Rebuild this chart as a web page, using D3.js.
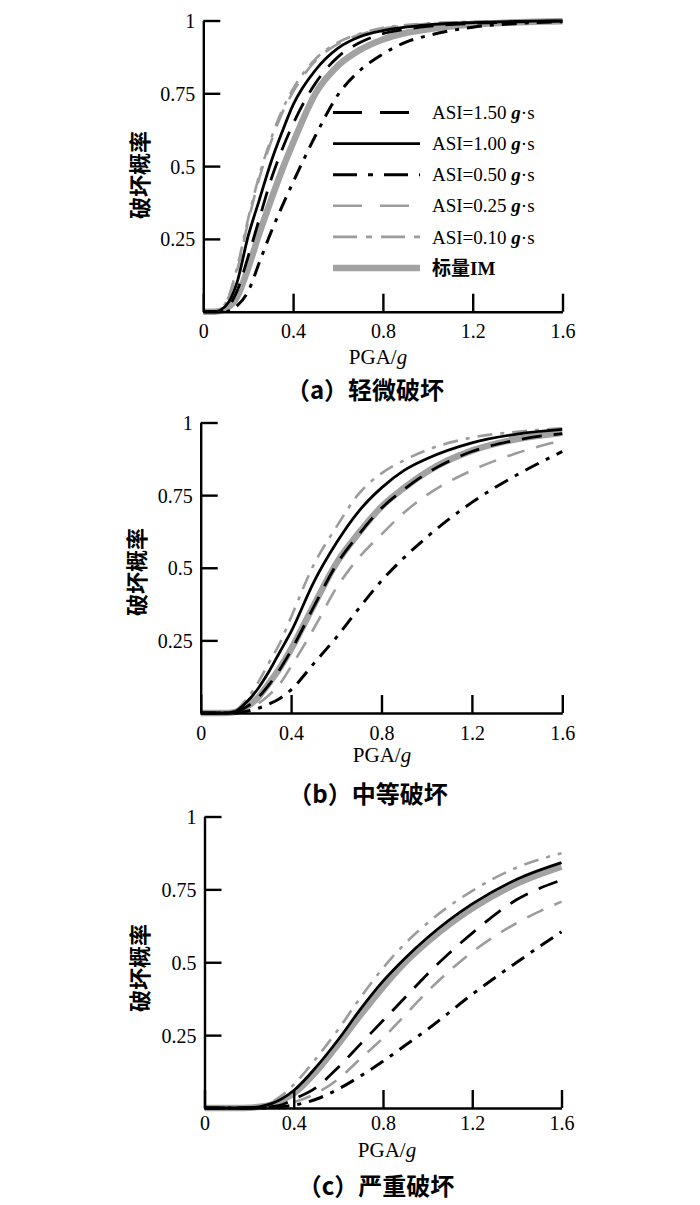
<!DOCTYPE html>
<html>
<head>
<meta charset="utf-8">
<script src="https://cdn.jsdelivr.net/npm/d3@7"></script>
<style>
  body { margin: 0; background: #fff; }
  svg { display: block; }
</style>
</head>
<body>
<svg id="chart" width="700" height="1205"></svg>
<script>
// PGA grid (g) shared by all curves
var pga = [0, 0.05, 0.1, 0.15, 0.2, 0.25, 0.3, 0.35, 0.4, 0.5, 0.6, 0.7, 0.8, 0.9, 1.0, 1.2, 1.4, 1.6];

var seriesLabels = ["ASI=1.50", "ASI=1.00", "ASI=0.50", "ASI=0.25", "ASI=0.10", "标量IM"];
var panelTitles = ["（a）轻微破坏", "（b）中等破坏", "（c）严重破坏"];
var xTicks = [0, 0.4, 0.8, 1.2, 1.6];
var xTickLabels = ["0", "0.4", "0.8", "1.2", "1.6"];
var yTicks = [0.25, 0.5, 0.75, 1];
var yTickLabels = ["0.25", "0.5", "0.75", "1"];

// (a) slight damage
var slight150 = [0, 0, .01, .07, .19, .32, .45, .555, .645, .785, .875, .925, .955, .97, .98, .99, .995, .998];
var slight100 = [0, 0, .02, .10, .26, .385, .51, .615, .71, .83, .905, .945, .965, .977, .985, .993, .997, .999];
var slight050 = [0, 0, 0, .02, .07, .17, .27, .36, .445, .605, .745, .83, .885, .925, .948, .977, .99, .996];
var slight025 = [0, 0, .03, .14, .31, .46, .58, .68, .755, .862, .92, .952, .972, .982, .989, .995, .998, .999];
var slight010 = [0, 0, .03, .15, .32, .47, .59, .69, .765, .868, .925, .955, .975, .984, .99, .996, .998, .999];
var slightIM  = [0, 0, .01, .05, .15, .27, .38, .485, .58, .75, .845, .90, .935, .957, .97, .986, .994, .997];

// (b) moderate damage
var moder150 = [0, 0, 0, .003, .02, .05, .095, .15, .215, .365, .51, .615, .705, .77, .825, .90, .94, .962];
var moder100 = [0, 0, 0, .005, .035, .08, .14, .21, .28, .45, .585, .695, .775, .835, .875, .93, .96, .976];
var moder050 = [0, 0, 0, 0, .005, .015, .03, .05, .08, .17, .26, .36, .455, .535, .605, .725, .82, .90];
var moder025 = [0, 0, 0, .002, .012, .03, .06, .10, .16, .29, .43, .535, .615, .69, .75, .835, .895, .939];
var moder010 = [0, 0, 0, .007, .045, .10, .17, .24, .33, .51, .64, .755, .825, .87, .905, .948, .968, .98];
var moderIM  = [0, 0, 0, .003, .02, .05, .10, .155, .22, .37, .515, .62, .71, .775, .83, .903, .943, .965];

// (c) severe damage
var sever150 = [0, 0, 0, 0, 0, .002, .005, .012, .03, .07, .14, .22, .30, .38, .46, .60, .715, .782];
var sever100 = [0, 0, 0, 0, .001, .005, .015, .033, .06, .14, .235, .34, .435, .515, .585, .70, .785, .842];
var sever050 = [0, 0, 0, 0, 0, 0, .002, .005, .01, .03, .065, .11, .16, .215, .27, .39, .50, .605];
var sever025 = [0, 0, 0, 0, 0, .001, .003, .01, .02, .05, .10, .17, .24, .32, .40, .535, .635, .708];
var sever010 = [0, 0, 0, 0, .002, .008, .02, .045, .08, .17, .27, .38, .48, .565, .635, .745, .825, .874];
var severIM  = [0, 0, 0, 0, .001, .004, .012, .028, .05, .125, .22, .32, .415, .50, .57, .685, .77, .828];

/** line look of each series, same order as seriesLabels */
var styles = [
  { stroke: "#000", width: 2.8, dash: "20,12", legendDash: "29,18" },
  { stroke: "#000", width: 2.8, dash: null, legendDash: null },
  { stroke: "#000", width: 3, dash: "15,8,4,8", legendDash: "24,11,5,11" },
  { stroke: "#9c9c9c", width: 2.6, dash: "18,12", legendDash: "29,18" },
  { stroke: "#9c9c9c", width: 2.6, dash: "15,8,4,8", legendDash: "24,9,6,9" },
  { stroke: "#a2a2a2", width: 6.5, dash: null, legendDash: null }
];
var drawOrder = [5, 3, 4, 0, 1, 2];

/** where each panel sits */
var layout = [
  { x0: 203.3, x1: 562.5, yTop: 20.5, yBot: 311.7, tickBase: 338, ylabX: 140, ylabY: 175, pgaX: 378, pgaY: 364, titleX: 365, titleY: 399 },
  { x0: 200.7, x1: 562.3, yTop: 422.5, yBot: 713, tickBase: 740, ylabX: 137, ylabY: 572, pgaX: 382, pgaY: 762, titleX: 368, titleY: 803 },
  { x0: 204.5, x1: 561.5, yTop: 816.5, yBot: 1108, tickBase: 1130, ylabX: 140, ylabY: 968, pgaX: 387, pgaY: 1157, titleX: 376, titleY: 1195 }
];

var panels = [
  [slight150, slight100, slight050, slight025, slight010, slightIM],
  [moder150, moder100, moder050, moder025, moder010, moderIM],
  [sever150, sever100, sever050, sever025, sever010, severIM]
];

var serif = "'Liberation Serif', 'DejaVu Serif', serif";
var cjk = "'Noto Sans CJK SC', 'Noto Sans', sans-serif";

var svg = d3.select("#chart");

panels.forEach(function (series, pi) {
  var L = layout[pi];
  var x = d3.scaleLinear().domain([0, 1.6]).range([L.x0, L.x1]);
  var y = d3.scaleLinear().domain([0, 1]).range([L.yBot, L.yTop]);
  var g = svg.append("g");

  var line = d3.line()
    .x(function (d, i) { return x(pga[i]); })
    .y(function (d) { return y(d); })
    .curve(d3.curveMonotoneX);

  drawOrder.forEach(function (si) {
    var s = styles[si];
    g.append("path")
      .datum(series[si])
      .attr("d", line)
      .attr("fill", "none")
      .attr("stroke", s.stroke)
      .attr("stroke-width", s.width)
      .attr("stroke-dasharray", s.dash)
      .attr("stroke-linejoin", "round");
  });

  // axes, ticks pointing inward
  var yAxis = d3.axisLeft(y)
    .tickValues(yTicks)
    .tickFormat(function (d, i) { return yTickLabels[i]; })
    .tickSizeInner(-17).tickSizeOuter(0).tickPadding(8);
  var xAxis = d3.axisBottom(x)
    .tickValues(xTicks)
    .tickFormat(function (d, i) { return xTickLabels[i]; })
    .tickSizeInner(-18).tickSizeOuter(0).tickPadding(0);

  var ya = g.append("g").attr("transform", "translate(" + L.x0 + ",0)").call(yAxis);
  var xa = g.append("g").attr("transform", "translate(0," + L.yBot + ")").call(xAxis);

  [ya, xa].forEach(function (a) {
    a.selectAll("path, line").attr("stroke", "#000").attr("stroke-width", 2.4);
    a.selectAll("text")
      .attr("fill", "#000")
      .style("font-family", serif)
      .style("font-size", "20px");
  });
  ya.selectAll("text").attr("dy", "0.35em");
  xa.selectAll("text").attr("dy", null).attr("y", L.tickBase - L.yBot);

  // y title
  g.append("text")
    .attr("transform", "translate(" + L.ylabX + "," + L.ylabY + ") rotate(-90)")
    .attr("text-anchor", "middle")
    .attr("dy", "0.36em")
    .style("font-family", cjk)
    .style("font-size", "22px")
    .style("font-weight", "bold")
    .text("破坏概率");

  // x title
  var xt = g.append("text")
    .attr("x", L.pgaX).attr("y", L.pgaY)
    .attr("text-anchor", "middle")
    .style("font-family", serif)
    .style("font-size", "21px");
  xt.append("tspan").text("PGA/");
  xt.append("tspan").style("font-style", "italic").text("g");

  // panel caption
  g.append("text")
    .attr("x", L.titleX).attr("y", L.titleY)
    .attr("text-anchor", "middle")
    .style("font-family", cjk)
    .style("font-size", "24px")
    .style("font-weight", "bold")
    .text(panelTitles[pi]);
});

// legend inside panel (a)
var leg = svg.append("g");
seriesLabels.forEach(function (lab, i) {
  var s = styles[i];
  var ly = 112.5 + i * 31.1;
  leg.append("line")
    .attr("x1", 333).attr("x2", 420)
    .attr("y1", ly).attr("y2", ly)
    .attr("stroke", s.stroke)
    .attr("stroke-width", s.width)
    .attr("stroke-dasharray", s.legendDash);
  var t = leg.append("text")
    .attr("x", 432).attr("y", ly).attr("dy", "0.35em")
    .style("font-family", serif)
    .style("font-size", "19px");
  if (i < 5) {
    t.append("tspan").text(lab + " ");
    t.append("tspan").style("font-style", "italic").style("font-weight", "bold").text("g");
    t.append("tspan").text("·s");
  } else {
    t.append("tspan").style("font-family", cjk).style("font-weight", "bold").text("标量");
    t.append("tspan").style("font-weight", "bold").text("IM");
  }
});
</script>
</body>
</html>
